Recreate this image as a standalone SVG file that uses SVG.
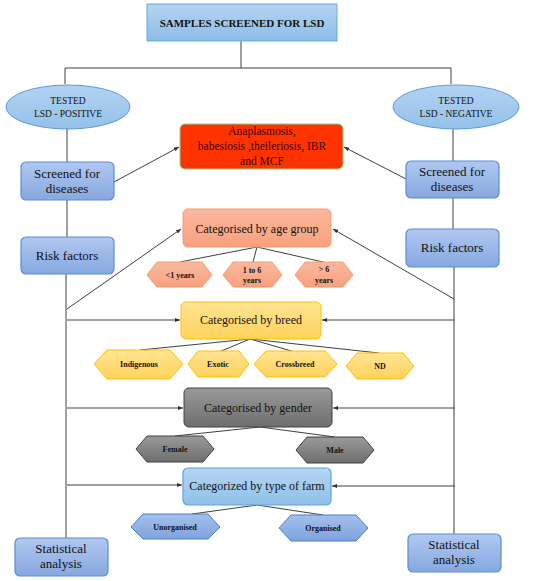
<svg xmlns="http://www.w3.org/2000/svg" width="550" height="581" viewBox="0 0 550 581">
<defs>
<linearGradient id="gTop" x1="0" y1="0" x2="0" y2="1"><stop offset="0" stop-color="#B4D4F1"/><stop offset="1" stop-color="#8CBDE8"/></linearGradient>
<linearGradient id="gEll" x1="0" y1="0" x2="0" y2="1"><stop offset="0" stop-color="#B3D3F1"/><stop offset="1" stop-color="#93C1EA"/></linearGradient>
<linearGradient id="gBlue" x1="0" y1="0" x2="0" y2="1"><stop offset="0" stop-color="#B0C8F0"/><stop offset="1" stop-color="#86A8E0"/></linearGradient>
<linearGradient id="gAge" x1="0" y1="0" x2="0" y2="1"><stop offset="0" stop-color="#FBB99E"/><stop offset="1" stop-color="#F8A07E"/></linearGradient>
<linearGradient id="gBreed" x1="0" y1="0" x2="0" y2="1"><stop offset="0" stop-color="#FFE492"/><stop offset="1" stop-color="#FFD35C"/></linearGradient>
<linearGradient id="gGray" x1="0" y1="0" x2="0" y2="1"><stop offset="0" stop-color="#9A9A9A"/><stop offset="1" stop-color="#6E6E6E"/></linearGradient>
<linearGradient id="gFarm" x1="0" y1="0" x2="0" y2="1"><stop offset="0" stop-color="#B5D6F3"/><stop offset="1" stop-color="#8FC0EA"/></linearGradient>
<linearGradient id="gFarmHex" x1="0" y1="0" x2="0" y2="1"><stop offset="0" stop-color="#A2C0EC"/><stop offset="1" stop-color="#7FA3DC"/></linearGradient>
<marker id="arr" viewBox="0 0 10 10" refX="10" refY="5" markerWidth="5" markerHeight="5" orient="auto" markerUnits="userSpaceOnUse"><path d="M0,1 L10,5 L0,9 z" fill="#303030"/></marker>
</defs>
<style>
text{fill:#111;text-anchor:middle}
.ln{stroke:#404040;stroke-width:1;fill:none}
.ar{stroke:#404040;stroke-width:1;fill:none;marker-end:url(#arr)}
.blue{fill:url(#gBlue);stroke:#5B8DD6;stroke-width:1.2}
.t13{font-size:13px}
.t12{font-size:12px}
.hx{font-size:8px;font-weight:bold}
.age{fill:url(#gAge);stroke:#F79A70;stroke-width:1}
.breed{fill:url(#gBreed);stroke:#FFC000;stroke-width:1}
.gray{fill:url(#gGray);stroke:#404040;stroke-width:1}
.farmhex{fill:url(#gFarmHex);stroke:#4A7EC8;stroke-width:1}
</style>
<rect width="550" height="581" fill="#fff"/>
<g id="connectors">
<polyline class="ln" points="241,41 241,68"/>
<polyline class="ln" points="65,84 65,68 451,68 451,84"/>
<line class="ln" x1="67" y1="129" x2="67" y2="162"/>
<line class="ln" x1="67" y1="200" x2="67" y2="237"/>
<line class="ln" x1="66" y1="274" x2="66" y2="538"/>
<line class="ln" x1="453" y1="129" x2="453" y2="161"/>
<line class="ln" x1="453" y1="198" x2="453" y2="229"/>
<line class="ln" x1="454" y1="267" x2="454" y2="534"/>
<line class="ar" x1="114" y1="182" x2="179" y2="147"/>
<line class="ar" x1="406" y1="179" x2="344" y2="147"/>
<line class="ar" x1="67" y1="309" x2="181" y2="229"/>
<line class="ar" x1="454" y1="299" x2="333" y2="229"/>
<line class="ar" x1="67" y1="320" x2="180" y2="320"/>
<line class="ar" x1="454" y1="320" x2="322" y2="320"/>
<line class="ar" x1="67" y1="408" x2="183" y2="408"/>
<line class="ar" x1="455" y1="408" x2="333" y2="408"/>
<line class="ar" x1="67" y1="485" x2="182" y2="485"/>
<line class="ar" x1="455" y1="486" x2="332" y2="486"/>
<polyline class="ln" points="180,262 257,247 253,262"/>
<line class="ln" x1="257" y1="247" x2="323" y2="262"/>
<polyline class="ln" points="140,350 250,339 219,352"/>
<polyline class="ln" points="295,352 250,339 379,353"/>
<polyline class="ln" points="175,436 260,427 335,437"/>
<polyline class="ln" points="192,514 257,505 323,515"/>
</g>
<g font-family="Liberation Serif">
<g id="top">
<rect x="147" y="4" width="190" height="37" fill="url(#gTop)" stroke="#63ACE2" stroke-width="1"/>
<text x="242" y="27" font-size="11" font-weight="bold" font-family="Liberation Serif">SAMPLES SCREENED FOR LSD</text>
</g>
<g id="pos">
<ellipse cx="68" cy="107" rx="62" ry="22" fill="url(#gEll)" stroke="#5B9BD5" stroke-width="1"/>
<text x="68" y="104" font-size="9.5" font-family="Liberation Serif">TESTED</text>
<text x="68" y="117" font-size="9.5" font-family="Liberation Serif">LSD - POSITIVE</text>
</g>
<g id="neg">
<ellipse cx="456" cy="107" rx="63" ry="22" fill="url(#gEll)" stroke="#5B9BD5" stroke-width="1"/>
<text x="456" y="104" font-size="9.5" font-family="Liberation Serif">TESTED</text>
<text x="456" y="117" font-size="9.5" font-family="Liberation Serif">LSD - NEGATIVE</text>
</g>
<g id="diseases">
<rect x="180" y="124" width="163" height="45" rx="5" fill="#FF3300" stroke="#8FD18A" stroke-width="1"/>
<text x="262" y="135" font-size="11.5" font-family="Liberation Serif" style="fill:#3A0800">Anaplasmosis,</text>
<text x="262" y="150" font-size="11.5" font-family="Liberation Serif" style="fill:#3A0800">babesiosis ,theileriosis, IBR</text>
<text x="262" y="165" font-size="11.5" font-family="Liberation Serif" style="fill:#3A0800">and MCF</text>
</g>
<g id="screenL">
<rect class="blue" x="21" y="162" width="93" height="38" rx="5"/>
<text class="t13" x="67" y="178" font-family="Liberation Serif">Screened for</text>
<text class="t13" x="67" y="193" font-family="Liberation Serif">diseases</text>
</g>
<g id="screenR">
<rect class="blue" x="406" y="161" width="93" height="37" rx="5"/>
<text class="t13" x="452" y="176" font-family="Liberation Serif">Screened for</text>
<text class="t13" x="452" y="191" font-family="Liberation Serif">diseases</text>
</g>
<g id="riskL">
<rect class="blue" x="21" y="237" width="93" height="37" rx="5"/>
<text class="t13" x="67" y="260" font-family="Liberation Serif">Risk factors</text>
</g>
<g id="riskR">
<rect class="blue" x="406" y="229" width="93" height="38" rx="5"/>
<text class="t13" x="452" y="252" font-family="Liberation Serif">Risk factors</text>
</g>
<g id="age">
<rect class="age" x="183" y="209" width="148" height="38" rx="5"/>
<text class="t12" x="257" y="233" font-family="Liberation Serif">Categorised by age group</text>
</g>
<g id="age1">
<polygon class="age" points="147,275 157,262 202,262 212,275 202,287 157,287"/>
<text class="hx" x="180" y="278" font-family="Liberation Serif">&lt;1 years</text>
</g>
<g id="age2">
<polygon class="age" points="223,275 233,262 272,262 282,275 272,287 233,287"/>
<text class="hx" x="252" y="273" font-family="Liberation Serif">1 to 6</text>
<text class="hx" x="252" y="283" font-family="Liberation Serif">years</text>
</g>
<g id="age3">
<polygon class="age" points="295,275 305,262 343,262 353,275 343,287 305,287"/>
<text class="hx" x="324" y="272" font-family="Liberation Serif">&gt; 6</text>
<text class="hx" x="324" y="283" font-family="Liberation Serif">years</text>
</g>
<g id="breed">
<rect class="breed" x="181" y="302" width="140" height="37" rx="5"/>
<text class="t12" x="251" y="324" font-family="Liberation Serif">Categorised by breed</text>
</g>
<g id="b1">
<polygon class="breed" points="94,364 107,350 170,350 183,364 170,379 107,379"/>
<text class="hx" x="139" y="367" font-family="Liberation Serif">Indigenous</text>
</g>
<g id="b2">
<polygon class="breed" points="188,364 198,351 239,351 249,364 239,377 198,377"/>
<text class="hx" x="218" y="367" font-family="Liberation Serif">Exotic</text>
</g>
<g id="b3">
<polygon class="breed" points="254,364 266,351 325,351 337,364 325,377 266,377"/>
<text class="hx" x="295" y="367" font-family="Liberation Serif">Crossbreed</text>
</g>
<g id="b4">
<polygon class="breed" points="346,366 357,353 403,353 414,366 403,379 357,379"/>
<text class="hx" x="380" y="369" font-family="Liberation Serif">ND</text>
</g>
<g id="gender">
<rect class="gray" x="184" y="388" width="148" height="39" rx="5"/>
<text class="t12" x="258" y="412" font-family="Liberation Serif">Categorised by gender</text>
</g>
<g id="g1">
<polygon class="gray" points="136,449 147,436 203,436 214,449 203,462 147,462"/>
<text class="hx" x="175" y="452" font-family="Liberation Serif">Female</text>
</g>
<g id="g2">
<polygon class="gray" points="296,450 307,437 363,437 374,450 363,463 307,463"/>
<text class="hx" x="335" y="453" font-family="Liberation Serif">Male</text>
</g>
<g id="farm">
<rect x="183" y="468" width="148" height="37" rx="5" fill="url(#gFarm)" stroke="#5BA4E0" stroke-width="1.2"/>
<text class="t12" x="257" y="490" font-family="Liberation Serif">Categorized by type of farm</text>
</g>
<g id="f1">
<polygon class="farmhex" points="131,527 143,514 208,514 220,527 208,539 143,539"/>
<text class="hx" x="175" y="530" font-family="Liberation Serif">Unorganised</text>
</g>
<g id="f2">
<polygon class="farmhex" points="279,528 291,515 356,515 368,528 356,541 291,541"/>
<text class="hx" x="323" y="531" font-family="Liberation Serif">Organised</text>
</g>
<g id="statL">
<rect class="blue" x="15" y="538" width="93" height="38" rx="5"/>
<text class="t13" x="61" y="553" font-family="Liberation Serif">Statistical</text>
<text class="t13" x="61" y="568" font-family="Liberation Serif">analysis</text>
</g>
<g id="statR">
<rect class="blue" x="408" y="534" width="93" height="38" rx="5"/>
<text class="t13" x="454" y="549" font-family="Liberation Serif">Statistical</text>
<text class="t13" x="454" y="564" font-family="Liberation Serif">analysis</text>
</g>
</g>
</svg>
